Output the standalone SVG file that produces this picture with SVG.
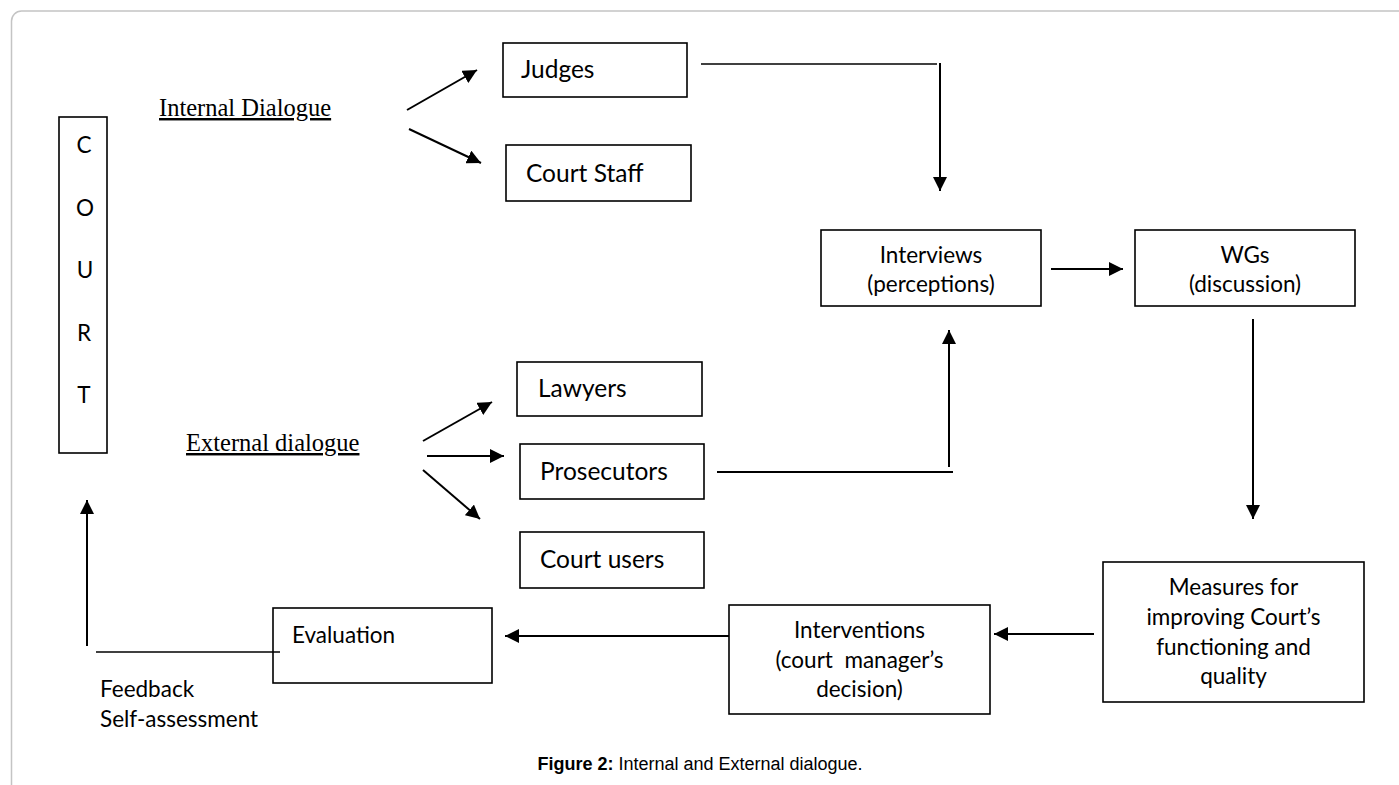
<svg xmlns="http://www.w3.org/2000/svg" width="1399" height="785" viewBox="0 0 1399 785">
<defs>
<style>
.box{fill:#fff;stroke:#000;stroke-width:1.6}
.t{font-family:Lato,"Open Sans",sans-serif;font-size:22.5px;fill:#000}
.tl{font-family:Lato,"Open Sans",sans-serif;font-size:24.5px;fill:#000}
.c{text-anchor:middle}
.ser{font-family:"Liberation Serif","Times New Roman",serif;font-size:24.5px;fill:#000;text-decoration:underline}
.ln{stroke:#000;stroke-width:2;fill:none}
.thin{stroke:#000;stroke-width:1.6;fill:none}
.cap{font-family:"Liberation Sans",Arial,sans-serif;font-size:18px;fill:#000}
</style>
<marker id="ah" markerUnits="userSpaceOnUse" markerWidth="15" markerHeight="14" refX="14" refY="7" orient="auto">
<path d="M0,0 L14,7 L0,14 z" fill="#000"/>
</marker>
</defs>
<rect width="1399" height="785" fill="#fff"/>
<path d="M11.5,785 V21 A10,10 0 0 1 21.5,11 H1399" fill="none" stroke="#c4c4c4" stroke-width="1.5"/>

<g id="court">
<rect class="box" x="59" y="117" width="48" height="336"/>
<text class="t c" x="84" y="153">C</text>
<text class="t c" x="85" y="215.5">O</text>
<text class="t c" x="85" y="278">U</text>
<text class="t c" x="84" y="340.5">R</text>
<text class="t c" x="84" y="403">T</text>
</g>
<g id="internal-dialogue"><text class="ser" x="159" y="116">Internal Dialogue</text></g>
<g id="external-dialogue"><text class="ser" x="186" y="451">External dialogue</text></g>

<g id="judges"><rect class="box" x="503" y="43" width="184" height="54"/><text class="tl" x="521" y="78">Judges</text></g>
<g id="court-staff"><rect class="box" x="506" y="145" width="185" height="56"/><text class="tl" x="526" y="182">Court Staff</text></g>
<g id="lawyers"><rect class="box" x="517" y="362" width="185" height="54"/><text class="tl" x="538" y="397">Lawyers</text></g>
<g id="prosecutors"><rect class="box" x="520" y="444" width="184" height="55"/><text class="tl" x="540" y="480">Prosecutors</text></g>
<g id="court-users"><rect class="box" x="520" y="532" width="184" height="56"/><text class="tl" x="540" y="568">Court users</text></g>
<g id="interviews"><rect class="box" x="821" y="230" width="220" height="76"/><text class="t c" x="931" y="263">Interviews</text><text class="t c" x="931" y="292">(perceptions)</text></g>
<g id="wgs"><rect class="box" x="1135" y="230" width="220" height="76"/><text class="t c" x="1245" y="263">WGs</text><text class="t c" x="1245" y="292">(discussion)</text></g>
<g id="measures"><rect class="box" x="1103" y="562" width="261" height="140"/><text class="t c" x="1233.5" y="595">Measures for</text><text class="t c" x="1233.5" y="625">improving Court’s</text><text class="t c" x="1233.5" y="655">functioning and</text><text class="t c" x="1233.5" y="684">quality</text></g>
<g id="interventions"><rect class="box" x="729" y="605" width="261" height="109"/><text class="t c" x="859.5" y="638">Interventions</text><text class="t c" x="859.5" y="668" xml:space="preserve">(court  manager’s</text><text class="t c" x="859.5" y="697">decision)</text></g>
<g id="evaluation"><rect class="box" x="273" y="608" width="219" height="75"/><text class="t" x="292" y="643">Evaluation</text></g>
<g id="feedback-label"><text class="t" x="100" y="697">Feedback</text><text class="t" x="100" y="727">Self-assessment</text></g>

<g id="connectors">
<line class="ln" x1="407" y1="110" x2="477" y2="70" marker-end="url(#ah)"/>
<line class="ln" x1="409" y1="129" x2="481" y2="163" marker-end="url(#ah)"/>
<line class="ln" x1="423" y1="441" x2="492" y2="402" marker-end="url(#ah)"/>
<line class="ln" x1="427" y1="456" x2="504" y2="456" marker-end="url(#ah)"/>
<line class="ln" x1="423" y1="470" x2="480" y2="519" marker-end="url(#ah)"/>
<line class="thin" x1="701" y1="64" x2="937" y2="64"/>
<line class="ln" x1="940" y1="63" x2="940" y2="191" marker-end="url(#ah)"/>
<line class="ln" x1="717" y1="472" x2="953" y2="472"/>
<line class="ln" x1="949" y1="467" x2="949" y2="330" marker-end="url(#ah)"/>
<line class="ln" x1="1051" y1="269" x2="1123" y2="269" marker-end="url(#ah)"/>
<line class="ln" x1="1253" y1="319" x2="1253" y2="519" marker-end="url(#ah)"/>
<line class="ln" x1="1094" y1="634" x2="994" y2="634" marker-end="url(#ah)"/>
<line class="ln" x1="729" y1="636" x2="505" y2="636" marker-end="url(#ah)"/>
<line class="thin" x1="96" y1="652" x2="280" y2="652"/>
<line class="ln" x1="87" y1="646" x2="87" y2="500" marker-end="url(#ah)"/>
</g>

<g id="caption"><text class="cap c" x="700" y="770"><tspan font-weight="bold">Figure 2:</tspan> Internal and External dialogue.</text></g>
</svg>
